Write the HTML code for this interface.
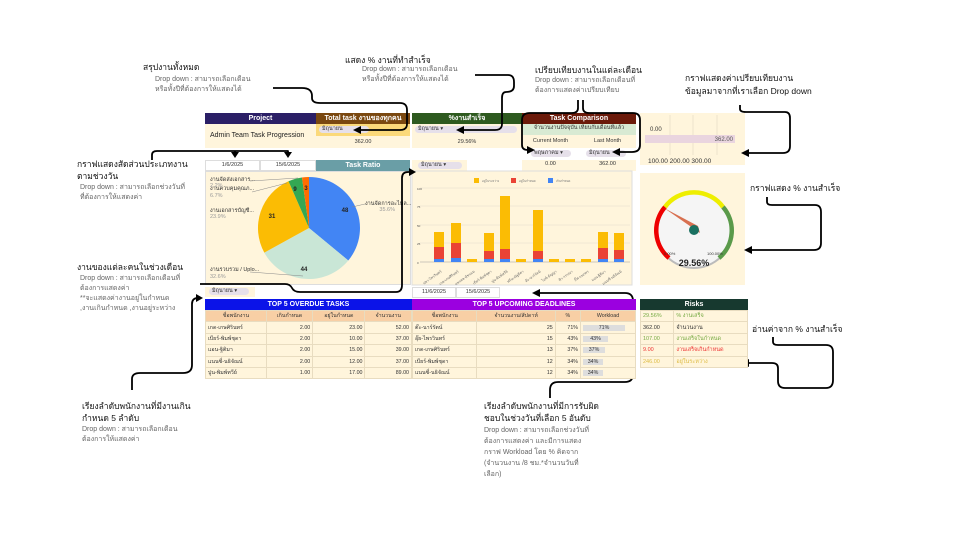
<!DOCTYPE html>
<html><head><meta charset="utf-8"><style>
*{margin:0;padding:0;box-sizing:border-box}
body{width:960px;height:540px;background:#fff;position:relative;overflow:hidden;font-family:"Liberation Sans","Noto Sans CJK SC",sans-serif;color:#222}
.a{position:absolute;white-space:nowrap}
.h{position:absolute;color:#fff;font-weight:bold;font-size:7px;text-align:center;line-height:11px}
.c{position:absolute;font-size:5.5px;line-height:9px;color:#333}
.n{font-size:8.5px;color:#111}
.g{font-size:7px;color:#666;line-height:10px}
.dd{position:absolute;background:#e6e0ea;border-radius:4px;font-size:5.5px;line-height:7px;padding-left:3px;color:#333}
table{border-collapse:collapse;position:absolute;font-size:5.3px}
td{height:11.4px;border:1px solid #e8dcc0;padding:0 2px;color:#333}
</style></head><body>

<div class="h" style="left:205px;top:113px;width:111px;background:#2b1f66">Project</div>
<div class="h" style="left:316px;top:113px;width:94px;background:#7a4810">Total task งานของทุกคน</div>
<div class="h" style="left:412px;top:113px;width:110px;background:#2e5a1f">%งานสำเร็จ</div>
<div class="h" style="left:522px;top:113px;width:114px;background:#6b1a0a">Task Comparison</div>
<div class="a" style="left:205px;top:124px;width:111px;height:24px;background:#fff5dc;font-size:7px;line-height:24px;padding-left:5px">Admin Team Task Progression</div>
<div class="a" style="left:316px;top:124px;width:94px;height:12px;background:#fbd97a"></div>
<div class="dd" style="left:319px;top:126px;width:50px">มิถุนายน</div>
<div class="a c" style="left:316px;top:136px;width:94px;height:12px;background:#fff5dc;text-align:center;line-height:12px">362.00</div>
<div class="a" style="left:412px;top:124px;width:110px;height:12px;background:#fff5dc"></div>
<div class="dd" style="left:415px;top:126px;width:102px">มิถุนายน ▾</div>
<div class="a c" style="left:412px;top:136px;width:110px;height:12px;background:#fff5dc;text-align:center;line-height:12px">29.56%</div>
<div class="a c" style="left:522px;top:124px;width:114px;height:11px;background:#d8ead3;text-align:center">จำนวนงานปัจจุบัน เทียบกับเดือนที่แล้ว</div>
<div class="a c" style="left:522px;top:135px;width:57px;height:13px;background:#fff5dc;text-align:center;line-height:13px">Current Month</div>
<div class="a c" style="left:579px;top:135px;width:57px;height:13px;background:#fff5dc;text-align:center;line-height:13px">Last Month</div>
<div class="dd" style="left:531px;top:150px;width:40px">พฤษภาคม ▾</div>
<div class="dd" style="left:586px;top:150px;width:40px">มิถุนายน</div>
<div class="a c" style="left:522px;top:160px;width:57px;height:11px;background:#fff5dc;text-align:center">0.00</div>
<div class="a c" style="left:579px;top:160px;width:57px;height:11px;background:#fff5dc;text-align:center">362.00</div>

<div class="a c" style="left:205px;top:160px;width:55px;height:11px;text-align:center;border:1px solid #ddd">1/6/2025</div>
<div class="a c" style="left:260px;top:160px;width:56px;height:11px;text-align:center;border:1px solid #ddd">15/6/2025</div>
<div class="h" style="left:316px;top:160px;width:94px;background:#6a9ea6">Task Ratio</div>
<div class="a" style="left:412px;top:160px;width:55px;height:11px;background:#fff5dc"></div>
<div class="dd" style="left:418px;top:162px;width:44px">มิถุนายน ▾</div>

<div class="a" style="left:205px;top:171px;width:206px;height:114px;background:#fff5dc;border:1px solid #ddd"></div>
<svg class="a" style="left:0;top:0" width="960" height="540">
<g transform="translate(309,228)">
<path d="M0,0 L0,-51 A51,51 0 0 1 39.3,32.5 Z" fill="#4285f4"/>
<path d="M0,0 L39.3,32.5 A51,51 0 0 1 -44.7,24.6 Z" fill="#c9e6d6"/>
<path d="M0,0 L-44.7,24.6 A51,51 0 0 1 -20.5,-46.7 Z" fill="#fbbc04"/>
<path d="M0,0 L-20.5,-46.7 A51,51 0 0 1 -7,-50.5 Z" fill="#34a853"/>
<path d="M0,0 L-7,-50.5 A51,51 0 0 1 0,-51 Z" fill="#ff6d01"/>
</g>
<g font-size="6" font-weight="bold" fill="#222" text-anchor="middle">
<text x="345" y="212">48</text><text x="304" y="271">44</text><text x="272" y="218">31</text><text x="295" y="191">9</text><text x="306" y="190">3</text></g>
<g stroke="#888" stroke-width="0.5"><line x1="250" y1="181" x2="298" y2="178"/><line x1="252" y1="192" x2="287" y2="183"/><line x1="352" y1="207" x2="365" y2="204"/><line x1="250" y1="272" x2="303" y2="276"/></g>
<g font-size="5.5" fill="#333"><text x="210" y="181">งานจัดส่งเอกสาร...</text><text x="210" y="190">งานควบคุมคุณภ...</text><text x="210" y="212">งานเอกสารบัญชี...</text><text x="210" y="271">งานรวบรวม / Uplo...</text><text x="365" y="205">งานจัดการอะไหล...</text></g>
<g font-size="5.5" fill="#999"><text x="210" y="187">2.2%</text><text x="210" y="197">6.7%</text><text x="210" y="218">23.9%</text><text x="210" y="278">32.6%</text><text x="395" y="211" text-anchor="end">35.6%</text></g>

<rect x="412" y="171" width="220" height="114" fill="#fff5dc" stroke="#ddd" stroke-width="1"/>
<g stroke="#e2dccb" stroke-width="0.5"><line x1="420" y1="188" x2="630" y2="188"/><line x1="420" y1="206" x2="630" y2="206"/><line x1="420" y1="225" x2="630" y2="225"/><line x1="420" y1="243" x2="630" y2="243"/><line x1="420" y1="262" x2="630" y2="262" stroke="#999"/></g>
<rect x="474" y="178" width="5" height="5" fill="#fbbc04"/><rect x="511" y="178" width="5" height="5" fill="#ea4335"/><rect x="548" y="178" width="5" height="5" fill="#4285f4"/>
<g font-size="3" fill="#777"><text x="482" y="182">อยู่ในระหว่าง</text><text x="519" y="182">อยู่ในกำหนด</text><text x="556" y="182">เกินกำหนด</text></g>
<g font-size="3" fill="#555"><text x="417" y="190">100</text><text x="417" y="208">75</text><text x="417" y="227">50</text><text x="417" y="245">25</text><text x="417" y="264">0</text></g>

<rect x="640" y="113" width="105" height="52" fill="#fff5dc"/>
<g stroke="#e0d8c0" stroke-width="0.6"><line x1="670" y1="115" x2="670" y2="155"/><line x1="693" y1="115" x2="693" y2="155"/><line x1="717" y1="115" x2="717" y2="155"/></g>
<rect x="645" y="135" width="90" height="8" fill="#ead5df"/>
<text x="650" y="131" font-size="6" fill="#333">0.00</text>
<text x="733" y="141" font-size="6" fill="#555" text-anchor="end">362.00</text>
<text x="648" y="163" font-size="6.5" fill="#333">100.00  200.00  300.00</text>

<rect x="640" y="173" width="105" height="112" fill="#fff5dc"/>
<circle cx="694" cy="230" r="39" fill="#bbb"/><circle cx="694" cy="230" r="37" fill="#f5f5f5"/>
<path d="M669,258 A36,36 0 0 1 665,207" stroke="#e00" stroke-width="4.5" fill="none"/>
<path d="M665,207 A36,36 0 0 1 723,207" stroke="#ee0" stroke-width="4.5" fill="none"/>
<path d="M723,207 A36,36 0 0 1 719,258" stroke="#5a9a4a" stroke-width="4.5" fill="none"/>
<polygon points="664,208 698,226 700,233" fill="#d87050"/>
<circle cx="694" cy="230" r="5" fill="#1a7060"/>
<text x="664" y="255" font-size="4" fill="#333">0.00%</text><text x="707" y="255" font-size="4" fill="#333">100.00%</text>
<text x="694" y="266" font-size="9" font-weight="bold" text-anchor="middle" fill="#222">29.56%</text>

<g stroke="#000" stroke-width="1.8" fill="none" stroke-linejoin="round">
<path d="M273,88 L302,88 Q312,88 312,96 L312,98 Q312,103 320,103 L400,103 Q407,103 407,110 L407,124 Q407,130 400,130 L357,130"/>
<path d="M475,75 L508,75 Q514,75 514,82 L514,86 Q514,92 506,92 Q502,92 502,98 L502,124 Q502,130 495,130 L461,130"/>
<path d="M578,100 L578,108 Q578,113 572,113 L530,113 Q522,113 522,120 L522,145 Q522,150 528,150 L530,150"/>
<path d="M583,100 L583,108 Q583,113 589,113 L633,113 Q640,113 640,120 L640,145 Q640,152 632,152 L617,152"/>
<path d="M740,105 L740,109 Q740,112 746,112 L785,112 Q790,112 790,118 L790,146 Q790,153 783,153 L746,153"/>
<path d="M767,197 L767,202 Q767,205 772,205 L815,205 Q821,205 821,212 L821,243 Q821,250 814,250 L749,250"/>
<path d="M152,160 L152,155 Q152,151 157,151 L285,151 L288,151 L288,153"/>
<path d="M235,151 L235,153"/>
<path d="M200,284 L285,284 Q290,284 292,288 Q294,292 300,292 L396,292 Q402,292 402,285 L402,178 Q402,172 408,172 L411,172"/>
<path d="M132,390 L132,379 Q132,373 140,373 L183,373 Q192,373 192,365 L192,304 Q192,298 198,298 L199,298"/>
<path d="M550,398 L550,390 Q550,382 558,382 L625,382 Q633,382 633,374 L633,301 Q633,293 625,293 L537,293"/>
<path d="M773,337 L773,342 Q773,345 778,345 L826,345 Q833,345 833,352 L833,380 Q833,388 826,388 L785,388 Q778,388 778,381 L778,368 Q778,363 772,363 L746,363"/>
</g>
<g fill="#000"><polygon points="353,130 361,126 361,134"/><polygon points="456,130 464,126 464,134"/><polygon points="535,150 527,146 527,154"/><polygon points="612,152 620,148 620,156"/><polygon points="741,153 749,149 749,157"/><polygon points="744,250 752,246 752,254"/><polygon points="235,158 231,152 239,152"/><polygon points="288,158 284,152 292,152"/><polygon points="416,172 409,168 409,176"/><polygon points="203,298 196,294 196,302"/><polygon points="532,293 540,289 540,297"/><polygon points="741,363 749,359 749,367"/></g>
</svg>

<div class="a" style="left:205px;top:287px;width:50px;height:10px;background:#fff5dc"></div>
<div class="dd" style="left:209px;top:288px;width:40px">มิถุนายน ▾</div>
<div class="h" style="left:205px;top:299px;width:207px;background:#0b13e8;line-height:11px">TOP 5 OVERDUE TASKS</div>
<div class="a c" style="left:412px;top:287px;width:44px;height:11px;border:1px solid #ddd;text-align:center">11/6/2025</div>
<div class="a c" style="left:456px;top:287px;width:44px;height:11px;border:1px solid #ddd;text-align:center">15/6/2025</div>
<div class="h" style="left:412px;top:299px;width:224px;background:#9b00e0">TOP 5 UPCOMING DEADLINES</div>
<table style="left:205px;top:310px;width:207px;background:#fff5dc">
<tr style="background:#f8cfa5;text-align:center"><td>ชื่อพนักงาน</td><td>เกินกำหนด</td><td>อยู่ในกำหนด</td><td>จำนวนงาน</td></tr>
<tr><td>เกด-เกษศิรินทร์</td><td align="right">2.00</td><td align="right">23.00</td><td align="right">52.00</td></tr>
<tr><td>เบียร์-พิมพ์ชุดา</td><td align="right">2.00</td><td align="right">10.00</td><td align="right">37.00</td></tr>
<tr><td>แอน-ฐิติมา</td><td align="right">2.00</td><td align="right">15.00</td><td align="right">39.00</td></tr>
<tr><td>แนนซี่-นธิจัณน์</td><td align="right">2.00</td><td align="right">12.00</td><td align="right">37.00</td></tr>
<tr><td>ปูน-พิมพ์ทวีย์</td><td align="right">1.00</td><td align="right">17.00</td><td align="right">89.00</td></tr>
</table>
<table style="left:412px;top:310px;width:224px;background:#fff5dc">
<tr style="background:#f8cfa5;text-align:center"><td>ชื่อพนักงาน</td><td>จำนวนงาน/สัปดาห์</td><td>%</td><td style="width:55px">Workload</td></tr>
<tr><td>ต๊ะ-นาร์รัตน์</td><td align="right">25</td><td align="right">71%</td><td><span style="display:inline-block;width:42px;background:#ddd;text-align:center">71%</span></td></tr>
<tr><td>อุ๊ย-ไพรวินทร์</td><td align="right">15</td><td align="right">43%</td><td><span style="display:inline-block;width:25px;background:#ddd;text-align:center">43%</span></td></tr>
<tr><td>เกด-เกษศิรินทร์</td><td align="right">13</td><td align="right">37%</td><td><span style="display:inline-block;width:22px;background:#ddd;text-align:center">37%</span></td></tr>
<tr><td>เบียร์-พิมพ์ชุดา</td><td align="right">12</td><td align="right">34%</td><td><span style="display:inline-block;width:20px;background:#ddd;text-align:center">34%</span></td></tr>
<tr><td>แนนซี่-นธิจัณน์</td><td align="right">12</td><td align="right">34%</td><td><span style="display:inline-block;width:20px;background:#ddd;text-align:center">34%</span></td></tr>
</table>
<div class="h" style="left:640px;top:299px;width:108px;background:#17392f">Risks</div>
<table style="left:640px;top:310px;width:108px;background:#fff5dc;font-size:5.5px">
<tr><td style="color:#7a4">29.56%</td><td style="color:#7a4">% งานเสร็จ</td></tr>
<tr><td>362.00</td><td>จำนวนงาน</td></tr>
<tr><td style="color:#7a4">107.00</td><td style="color:#7a4">งานเสร็จในกำหนด</td></tr>
<tr><td style="color:#e33">9.00</td><td style="color:#e33">งานเสร็จเกินกำหนด</td></tr>
<tr><td style="color:#db4">246.00</td><td style="color:#db4">อยู่ในระหว่าง</td></tr>
</table>

<div class="a n" style="left:143px;top:60px">สรุปงานทั้งหมด</div>
<div class="a g" style="left:155px;top:75px">Drop down : สามารถเลือกเดือน<br>หรือทั้งปีที่ต้องการให้แสดงได้</div>
<div class="a n" style="left:345px;top:53px">แสดง % งานที่ทำสำเร็จ</div>
<div class="a g" style="left:362px;top:65px">Drop down : สามารถเลือกเดือน<br>หรือทั้งปีที่ต้องการให้แสดงได้</div>
<div class="a n" style="left:535px;top:63px">เปรียบเทียบงานในแต่ละเดือน</div>
<div class="a g" style="left:535px;top:76px">Drop down : สามารถเลือกเดือนที่<br>ต้องการแสดงค่าเปรียบเทียบ</div>
<div class="a n" style="left:685px;top:72px;line-height:13px">กราฟแสดงค่าเปรียบเทียบงาน<br>ข้อมูลมาจากที่เราเลือก Drop down</div>
<div class="a n" style="left:77px;top:158px;line-height:12px">กราฟแสดงสัดส่วนประเภทงาน<br>ตามช่วงวัน</div>
<div class="a g" style="left:80px;top:183px">Drop down : สามารถเลือกช่วงวันที่<br>ที่ต้องการให้แสดงค่า</div>
<div class="a n" style="left:750px;top:181px">กราฟแสดง % งานสำเร็จ</div>
<div class="a n" style="left:77px;top:260px">งานของแต่ละคนในช่วงเดือน</div>
<div class="a g" style="left:80px;top:274px">Drop down : สามารถเลือกเดือนที่<br>ต้องการแสดงค่า<br>**จะแสดงค่างานอยู่ในกำหนด<br>,งานเกินกำหนด ,งานอยู่ระหว่าง</div>
<div class="a n" style="left:752px;top:322px">อ่านค่าจาก % งานสำเร็จ</div>
<div class="a n" style="left:82px;top:400px;line-height:12px">เรียงลำดับพนักงานที่มีงานเกิน<br>กำหนด 5 ลำดับ</div>
<div class="a g" style="left:82px;top:425px">Drop down : สามารถเลือกเดือน<br>ต้องการให้แสดงค่า</div>
<div class="a n" style="left:484px;top:400px;line-height:12px">เรียงลำดับพนักงานที่มีการรับผิด<br>ชอบในช่วงวันที่เลือก 5 อันดับ</div>
<div class="a g" style="left:484px;top:425px;line-height:11px">Drop down : สามารถเลือกช่วงวันที่<br>ต้องการแสดงค่า และมีการแสดง<br>กราฟ Workload โดย % คิดจาก<br>(จำนวนงาน /8 ชม.*จำนวนวันที่<br>เลือก)</div>

<svg class="a" style="left:0;top:0" width="960" height="540">
<rect x="434" y="259" width="10" height="3" fill="#4285f4"/><rect x="434" y="247" width="10" height="12" fill="#ea4335"/><rect x="434" y="232" width="10" height="15" fill="#fbbc04"/>
<rect x="451" y="258" width="10" height="4" fill="#4285f4"/><rect x="451" y="243" width="10" height="15" fill="#ea4335"/><rect x="451" y="223" width="10" height="20" fill="#fbbc04"/>
<rect x="467" y="259" width="10" height="3" fill="#fbbc04"/>
<rect x="484" y="259" width="10" height="3" fill="#4285f4"/><rect x="484" y="251" width="10" height="8" fill="#ea4335"/><rect x="484" y="233" width="10" height="18" fill="#fbbc04"/>
<rect x="500" y="259" width="10" height="3" fill="#4285f4"/><rect x="500" y="249" width="10" height="10" fill="#ea4335"/><rect x="500" y="196" width="10" height="53" fill="#fbbc04"/>
<rect x="516" y="259" width="10" height="3" fill="#fbbc04"/>
<rect x="533" y="259" width="10" height="3" fill="#4285f4"/><rect x="533" y="251" width="10" height="8" fill="#ea4335"/><rect x="533" y="210" width="10" height="41" fill="#fbbc04"/>
<rect x="549" y="259" width="10" height="3" fill="#fbbc04"/>
<rect x="565" y="259" width="10" height="3" fill="#fbbc04"/>
<rect x="581" y="259" width="10" height="3" fill="#fbbc04"/>
<rect x="598" y="259" width="10" height="3" fill="#4285f4"/><rect x="598" y="248" width="10" height="11" fill="#ea4335"/><rect x="598" y="232" width="10" height="16" fill="#fbbc04"/>
<rect x="614" y="259" width="10" height="3" fill="#4285f4"/><rect x="614" y="250" width="10" height="9" fill="#ea4335"/><rect x="614" y="233" width="10" height="17" fill="#fbbc04"/>
<g font-size="3.5" fill="#666" text-anchor="end">
<text transform="translate(442,272) rotate(-35)">ปลา-ไพรวินทร์</text>
<text transform="translate(459,272) rotate(-35)">เกด-เกษศิรินทร์</text>
<text transform="translate(475,272) rotate(-35)">แพรพล-พัชรมน</text>
<text transform="translate(492,272) rotate(-35)">เบียร์-พิมพ์ชุดา</text>
<text transform="translate(508,272) rotate(-35)">ปูน-พิมพ์ทวีย์</text>
<text transform="translate(524,272) rotate(-35)">ฟรีน-ณัฐธิดา</text>
<text transform="translate(541,272) rotate(-35)">ต๊ะ-นาร์รัตน์</text>
<text transform="translate(557,272) rotate(-35)">ไอซ์-ธัญญา</text>
<text transform="translate(573,272) rotate(-35)">ฟ้า-วรรณา</text>
<text transform="translate(589,272) rotate(-35)">กิ๊ฟ-กนกพร</text>
<text transform="translate(606,272) rotate(-35)">แอน-ฐิติมา</text>
<text transform="translate(622,272) rotate(-35)">แนนซี่-นธิจัณน์</text>
</g>
</svg>
</body></html>
